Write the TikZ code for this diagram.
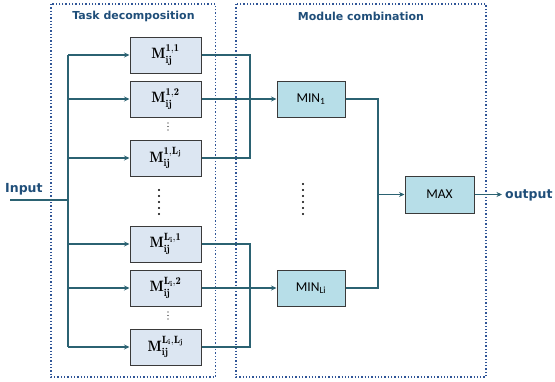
\documentclass[tikz,border=0pt]{standalone}
\usepackage{fontspec}
\usepackage{amsmath}
\newfontfamily\titlefont{DejaVu Sans}
\newfontfamily\boxfont{Carlito}
\usetikzlibrary{arrows.meta}
\definecolor{linec}{HTML}{2B6272}
\definecolor{framec}{HTML}{2F5597}
\definecolor{titlec}{HTML}{1F4E79}
\definecolor{mfill}{HTML}{DCE6F2}
\definecolor{minfill}{HTML}{B7DEE8}
\definecolor{boxline}{HTML}{3A3A3A}
\begin{document}
\begin{tikzpicture}[x=1pt,y=-1pt,
  conn/.style={draw=linec,line width=1.7pt},
  arr/.style={conn,-{Stealth[length=5.5pt,width=5pt]}},
  mbox/.style={draw=boxline,line width=1pt,fill=mfill,minimum width=71pt,minimum height=36pt,inner sep=0pt,font=\fontsize{15}{17}\selectfont},
  opbox/.style={draw=boxline,line width=1pt,fill=minfill,minimum width=68pt,minimum height=36pt,inner sep=0pt,font=\boxfont\fontsize{13.5}{15}\selectfont},
  frame/.style={draw=framec,line width=1.3pt,dotted},
  ttl/.style={text=titlec,font=\titlefont\bfseries\fontsize{11}{13}\selectfont},
  big/.style={text=titlec,font=\titlefont\bfseries\fontsize{12.5}{14}\selectfont,anchor=west,inner sep=0pt},
  dotc/.style={fill=black,circle,inner sep=0pt,minimum size=2.4pt},
  sdot/.style={fill=black,circle,inner sep=0pt,minimum size=1.3pt}]
\useasboundingbox (0,0) rectangle (555,381);
% frames
\draw[frame] (51,4) rectangle (215.5,377);
\draw[frame] (236,4) rectangle (486,377);
\node[ttl] (t1) at (133.5,16) {Task decomposition};
\node[ttl] (t2) at (361,16) {Module combination};
% M boxes
\node[mbox] (m11) at (165.5,55) {$\mathbf{M}^{\mathbf{1,1}}_{\mathbf{ij}}$};
\node[mbox] (m12) at (165.5,99) {$\mathbf{M}^{\mathbf{1,2}}_{\mathbf{ij}}$};
\node[mbox] (m1L) at (165.5,158) {$\mathbf{M}^{\mathbf{1,L_j}}_{\mathbf{ij}}$};
\node[mbox] (mL1) at (165.5,244) {$\mathbf{M}^{\mathbf{L_i,1}}_{\mathbf{ij}}$};
\node[mbox] (mL2) at (165.5,288) {$\mathbf{M}^{\mathbf{L_i,2}}_{\mathbf{ij}}$};
\node[mbox] (mLL) at (165.5,347) {$\mathbf{M}^{\mathbf{L_i,L_j}}_{\mathbf{ij}}$};
% small vdots
\foreach \yy [count=\k] in {123,126.5,130}{
  \node[sdot] (sa\k) at (168,\yy) {};
  \node[sdot] (sb\k) at (168,\yy+189) {};
}
% big dots
\foreach \yy [count=\k] in {190,196,202,208,214}{
  \node[dotc] (ba\k) at (159,\yy) {};
}
\foreach \yy [count=\k] in {184,190,196,202,208,214}{
  \node[dotc] (bb\k) at (303,\yy) {};
}
% operators
\node[opbox] (min1) at (311,99) {MIN\textsubscript{1}};
\node[opbox] (minL) at (311,288) {MIN\textsubscript{Li}};
\node[opbox,minimum width=69pt,minimum height=37pt] (max) at (439.5,194.5) {MAX};
% texts
\node[big] (inp) at (5,189) {Input};
\node[big] (outp) at (505,195) {output};
% input bus
\coordinate (istart) at (10,200);
\coordinate (bus) at (68,200);
\coordinate (btop) at (68,55);
\coordinate (bbot) at (68,347);
\draw[conn] (istart) -- (bus);
\draw[conn] (btop) -- (bbot);
\foreach \n in {m11,m12,m1L,mL1,mL2,mLL}{
  \draw[arr] (68,0 |- \n.west) -- (\n.west);
}
% right buses
\draw[conn] (m11.east) -- (250,0 |- m11.east) -- (250,0 |- m1L.east) -- (m1L.east);
\draw[conn] (mL1.east) -- (250,0 |- mL1.east) -- (250,0 |- mLL.east) -- (mLL.east);
\draw[arr] (m12.east) -- (min1.west);
\draw[arr] (mL2.east) -- (minL.west);
\draw[conn] (min1.east) -- (378,0 |- min1.east) -- (378,0 |- minL.east) -- (minL.east);
\draw[arr] (378,0 |- max.west) -- (max.west);
\coordinate (oend) at (502,194.5);
\draw[arr] (max.east) -- (oend);
\end{tikzpicture}
\end{document}
